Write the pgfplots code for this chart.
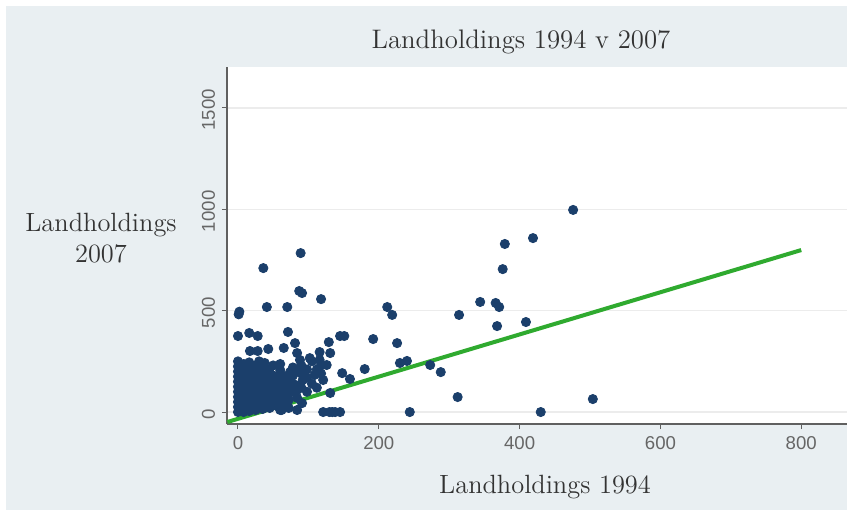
\documentclass[border=0pt]{standalone}
\usepackage{fontspec}
\setsansfont{Liberation Sans}
\usepackage{pgfplots}
\pgfplotsset{compat=1.18}
\definecolor{bgc}{HTML}{E9EFF2}
\definecolor{navy}{HTML}{1B3F6B}
\definecolor{lgreen}{HTML}{2FAA2F}
\definecolor{txt}{HTML}{333333}
\definecolor{tickc}{HTML}{666666}
\definecolor{gridc}{HTML}{ECECEC}
\begin{document}
\begin{tikzpicture}
\useasboundingbox (-113.5pt,-43pt) rectangle (310pt,212pt);
\fill[white] (-113.5pt,-43pt) rectangle (310pt,212pt);
\fill[bgc] (-110.5pt,-43pt) rectangle (310pt,209pt);
\begin{axis}[at={(0,0)}, anchor=south west, scale only axis,
  width=310pt, height=178.5pt,
  xmin=-15.6, xmax=865, ymin=-59, ymax=1702,
  axis background/.style={fill=white},
  axis x line*=bottom, axis y line*=left,
  axis line style={-, color=gray!75!black, line width=0.6pt},
  xtick={0,200,400,600,800}, ytick={0,500,1000,1500},
  scaled ticks=false,
  /pgf/number format/1000 sep={},
  /pgf/number format/assume math mode=true,
  tick align=outside, major tick length=2.5pt,
  tick style={color=gray!75!black, line width=0.5pt},
  tick label style={font=\fontsize{9.3}{10}\selectfont\sffamily, color=tickc},
  yticklabel style={rotate=90, anchor=south, xshift=-1pt},
  ymajorgrids, grid style={gridc, line width=0.8pt},
  clip=true]
\addplot[only marks, mark=*, mark size=2.3pt, mark options={draw=navy, fill=navy}] coordinates {
(476,997) (419,858) (379,829) (376,705) (344,543) (366,538) (371,518)
(212,518) (219,479) (314,479) (368,424) (409,444) (226,340) (230,242)
(240,252) (273,232) (288,197) (312,74) (244,0) (430,0) (504,64)
(2,495) (1,482) (36,710) (89,784) (91,587) (87,597) (118,557) (41,518)
(70,518) (145,375) (151,375) (192,360) (180,212) (148,192) (159,163)
(131,94) (121,0) (130,0) (138,0) (145,0) (134,0)
(0,375) (16,390) (28,375) (71,395) (17,301) (28,301) (43,311) (65,316)
(81,340) (129,345) (84,291) (88,257) (102,266) (116,296) (131,291)
(116,257) (126,232) (60,237) (38,242) (26,222) (84,10) (62,10) (91,44)
(70,84) (84,109) (92,158) (109,183) (121,158) (74,197) (53,158) (60,207)
(0,0) (0,25) (0,50) (0,75) (0,100) (0,125) (0,150) (0,175) (0,200) (0,225) (0,250)
(4,12) (4,62) (4,112) (4,162) (4,212)
(8,0) (8,37) (8,87) (8,137) (8,187) (8,237)
(12,20) (12,60) (12,100) (12,140) (12,180) (12,220)
(16,5) (16,45) (16,85) (16,125) (16,165) (16,205) (16,245)
(20,25) (20,70) (20,110) (20,150) (20,190) (20,230)
(25,10) (25,55) (25,95) (25,135) (25,175) (25,215)
(30,35) (30,80) (30,120) (30,160) (30,200) (30,250)
(35,15) (35,60) (35,105) (35,145) (35,185) (35,230)
(40,40) (40,90) (40,130) (40,170) (40,210)
(45,20) (45,70) (45,115) (45,155) (45,195)
(50,50) (50,100) (50,140) (50,180) (50,230)
(55,30) (55,80) (55,125) (55,165)
(60,10) (60,60) (60,105) (60,150) (60,190)
(66,40) (66,90) (66,130) (66,175)
(72,20) (72,60) (72,120) (72,160)
(78,100) (78,140) (78,180) (78,220)
(84,70) (84,130) (84,200)
(90,120) (90,190) (90,230)
(98,100) (98,170) (98,210)
(105,140) (105,250) (112,120) (112,210) (118,230) (118,190)
};
\addplot[lgreen, line width=2pt] coordinates {(-15,-49) (800,799)};
\end{axis}
\node[font=\fontsize{13.4}{16}\selectfont, color=txt] at (147pt,191pt) {Landholdings 1994 v 2007};
\node[font=\fontsize{13.2}{16}\selectfont, color=txt] at (159pt,-31.5pt) {Landholdings 1994};
\node[font=\fontsize{13.2}{15.5}\selectfont, color=txt, align=center] at (-63pt,93pt) {Landholdings\\2007};
\end{tikzpicture}
\end{document}
